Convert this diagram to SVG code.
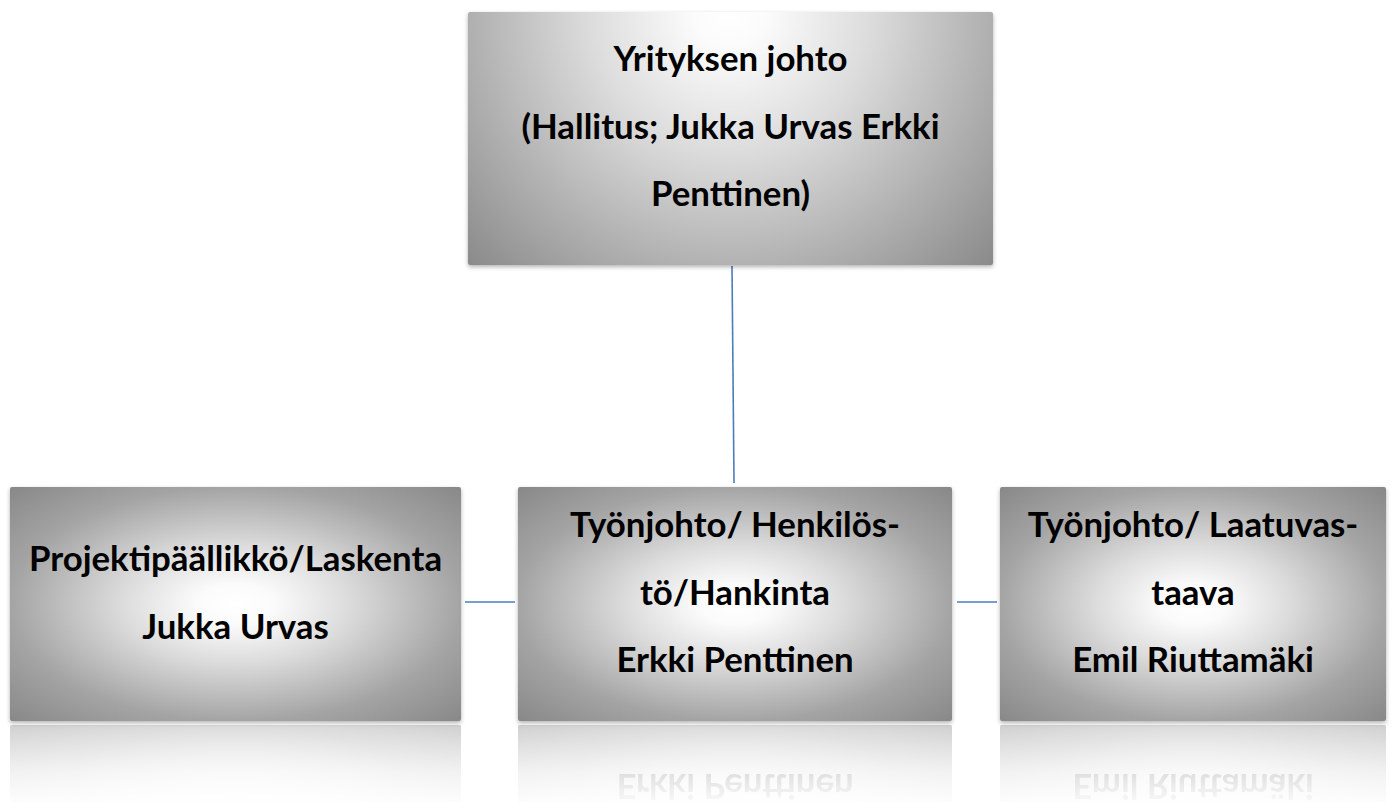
<svg xmlns="http://www.w3.org/2000/svg" width="1393" height="802" viewBox="0 0 1393 802">
<style>
.lbl{font-family:Lato,"Open Sans","Liberation Sans",sans-serif;font-weight:700;font-size:34.8px;fill:#000;text-anchor:middle}
.box{fill:url(#gBox);filter:url(#sh)}
.conn{stroke:#4a7ebb;stroke-width:1.6;fill:none}
</style>
<defs>
<radialGradient id="gBox" cx="0.5" cy="0.5" r="0.7071" fx="0.5" fy="0.5">
<stop offset="0" stop-color="#ffffff"/>
<stop offset="0.12" stop-color="#fbfbfb"/>
<stop offset="0.354" stop-color="#dcdcdc"/>
<stop offset="0.707" stop-color="#a4a4a4"/>
<stop offset="1" stop-color="#888888"/>
</radialGradient>
<radialGradient id="gTop" gradientUnits="userSpaceOnUse" cx="730" cy="12" r="370">
<stop offset="0" stop-color="#ffffff"/>
<stop offset="0.1" stop-color="#fbfbfb"/>
<stop offset="0.38" stop-color="#dcdcdc"/>
<stop offset="0.7" stop-color="#b0b0b0"/>
<stop offset="1" stop-color="#888888"/>
</radialGradient>
<filter id="sh" x="-5%" y="-5%" width="110%" height="115%">
<feGaussianBlur in="SourceAlpha" stdDeviation="2"/>
<feOffset dx="0" dy="1.5" result="b"/>
<feFlood flood-color="#000" flood-opacity="0.3"/>
<feComposite in2="b" operator="in" result="s"/>
<feGaussianBlur in="SourceGraphic" stdDeviation="0.6" result="g"/>
<feMerge><feMergeNode in="s"/><feMergeNode in="g"/></feMerge>
</filter>
<linearGradient id="fade" x1="0" y1="0" x2="0" y2="1">
<stop offset="0" stop-color="#fff" stop-opacity="0.4"/>
<stop offset="0.2" stop-color="#fff" stop-opacity="0.13"/>
<stop offset="0.36" stop-color="#fff" stop-opacity="0"/>
</linearGradient>
<mask id="refl" maskContentUnits="objectBoundingBox">
<rect x="0" y="0" width="1" height="1" fill="url(#fade)"/>
</mask>
</defs>

<g id="connectors">
<line class="conn" x1="732" y1="266" x2="734" y2="483"/>
<line class="conn" x1="465" y1="602" x2="515" y2="602"/>
<line class="conn" x1="957" y1="602" x2="997" y2="602"/>
</g>

<g id="node-top">
<rect x="468" y="12" width="525" height="253" rx="2" fill="url(#gTop)" filter="url(#sh)"/>
<text class="lbl" x="730.5" y="71">Yrityksen johto</text>
<text class="lbl" x="730.5" y="139">(Hallitus; Jukka Urvas Erkki</text>
<text class="lbl" x="730.5" y="206">Penttinen)</text>
</g>

<g id="node-left">
<g mask="url(#refl)">
<g transform="translate(0,1446) scale(1,-1)">
<rect class="box" x="10" y="487" width="451" height="234" rx="2"/>
</g>
</g>
<rect class="box" x="10" y="487" width="451" height="234" rx="2"/>
<text class="lbl" x="235.5" y="571">Projektipäällikkö/Laskenta</text>
<text class="lbl" x="235.5" y="639">Jukka Urvas</text>
</g>

<g id="node-middle">
<g mask="url(#refl)">
<g transform="translate(0,1446) scale(1,-1)">
<rect class="box" x="518" y="487" width="434" height="234" rx="2"/>
<text class="lbl" x="735" y="672">Erkki Penttinen</text>
</g>
</g>
<rect class="box" x="518" y="487" width="434" height="234" rx="2"/>
<text class="lbl" x="735" y="537">Työnjohto/ Henkilös-</text>
<text class="lbl" x="735" y="605">tö/Hankinta</text>
<text class="lbl" x="735" y="672">Erkki Penttinen</text>
</g>

<g id="node-right">
<g mask="url(#refl)">
<g transform="translate(0,1446) scale(1,-1)">
<rect class="box" x="1000" y="487" width="386" height="234" rx="2"/>
<text class="lbl" x="1193" y="672">Emil Riuttamäki</text>
</g>
</g>
<rect class="box" x="1000" y="487" width="386" height="234" rx="2"/>
<text class="lbl" x="1193" y="537">Työnjohto/ Laatuvas-</text>
<text class="lbl" x="1193" y="605">taava</text>
<text class="lbl" x="1193" y="672">Emil Riuttamäki</text>
</g>
</svg>
